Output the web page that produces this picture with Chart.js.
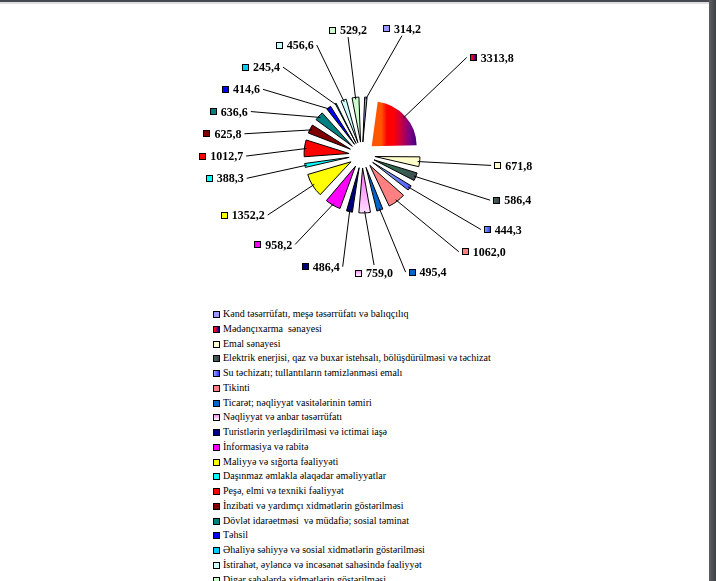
<!DOCTYPE html>
<html>
<head>
<meta charset="utf-8">
<script src="https://cdn.jsdelivr.net/npm/chart.js@4.4.0/dist/chart.umd.min.js"></script>
<style>
  html, body { margin: 0; padding: 0; background: #fff; width: 716px; height: 581px; overflow: hidden; }
  #topbar { position: absolute; left: 0; top: 0; width: 709px; height: 2px; background: #46494d; }
  #topline { position: absolute; left: 0; top: 2px; width: 709px; height: 2px; background: #dedede; }
  #side { position: absolute; left: 709px; top: 0; width: 7px; height: 581px; background: linear-gradient(to right, #5c5f63, #3e4144); }
  #pie { position: absolute; left: 62px; top: 5px; }
  #legend { position: absolute; left: 213px; top: 0; font-family: "Liberation Serif", serif; font-size: 10px; color: #000; }
  .item { position: absolute; left: 0; white-space: pre; height: 12px; line-height: 12px; }
  .item i { position: absolute; left: 0; top: 3px; width: 5px; height: 5px; border: 1px solid #000; }
  .item span { position: absolute; left: 10px; top: 0; }
</style>
</head>
<body>
<div id="topbar"></div>
<div id="topline"></div>
<div id="side"></div>
<canvas id="pie" width="600" height="300"></canvas>
<div id="legend"></div>
<script>
// sectors and values (mln. manat)
const sectors = [
  'Kənd təsərrüfatı, meşə təsərrüfatı və balıqçılıq',
  'Mədənçıxarma  sənayesi',
  'Emal sənayesi',
  'Elektrik enerjisi, qaz və buxar istehsalı, bölüşdürülməsi və təchizat',
  'Su təchizatı; tullantıların təmizlənməsi emalı',
  'Tikinti',
  'Ticarət; nəqliyyat vasitələrinin təmiri',
  'Nəqliyyat və anbar təsərrüfatı',
  'Turistlərin yerləşdirilməsi və ictimai iaşə',
  'İnformasiya və rabitə',
  'Maliyyə və sığorta fəaliyyəti',
  'Daşınmaz əmlakla əlaqədar əməliyyatlar',
  'Peşə, elmi və texniki fəaliyyət',
  'İnzibati və yardımçı xidmətlərin göstərilməsi',
  'Dövlət idarəetməsi  və müdafiə; sosial təminat',
  'Təhsil',
  'Əhaliyə səhiyyə və sosial xidmətlərin göstərilməsi',
  'İstirahət, əyləncə və incəsənət sahəsində fəaliyyət',
  'Digər sahələrdə xidmətlərin göstərilməsi'
];
const values = [314.2, 3313.8, 671.8, 586.4, 444.3, 1062.0, 495.4, 759.0, 486.4, 958.2,
                1352.2, 388.3, 1012.7, 625.8, 636.6, 414.6, 245.4, 456.6, 529.2];

// plain colour, or [direction, ...stops] for the gradient slices
const fills = [
  '#9999FF',
  ['h', '#FF5500', '#FF0000', '#FF0000', '#E0002A', '#B00058', '#800080', '#500080', '#200080', '#000080'],
  '#FFFFCC',
  ['h', '#2E7050', '#3A5A50', '#5A3060'],
  ['h', '#88A8FF', '#3333FF'],
  '#FF8080',
  '#0066CC',
  ['v', '#FF88FF', '#FFFFFF'],
  '#000080',
  '#FF00FF',
  '#FFFF00',
  '#00FFFF',
  '#FF0000',
  '#800000',
  '#008080',
  '#0000FF',
  '#00CCFF',
  '#CCFFFF',
  '#CCFFCC'
];

const R = 45;       // slice radius
const SHIFT = 13;   // explode distance

function makeFill(ctx, f, x0, y0, x1, y1) {
  if (typeof f === 'string') return f;
  const g = f[0] === 'h' ? ctx.createLinearGradient(x0, 0, x1, 0) : ctx.createLinearGradient(0, y0, 0, y1);
  const stops = f.slice(1);
  stops.forEach((c, k) => g.addColorStop(k / (stops.length - 1), c));
  return g;
}

function sliceAngles(i) {
  const total = values.reduce((a, b) => a + b, 0);
  let s = 0;
  for (let k = 0; k < i; k++) s += values[k];
  const a0 = -Math.PI / 2 + s / total * 2 * Math.PI;
  return [a0, a0 + values[i] / total * 2 * Math.PI];
}

function sliceBox(chart, i) {
  const a = chart.chartArea;
  const cx = (a.left + a.right) / 2, cy = (a.top + a.bottom) / 2;
  const [s, e] = sliceAngles(i);
  const m = (s + e) / 2;
  const ox = cx + Math.cos(m) * SHIFT, oy = cy + Math.sin(m) * SHIFT;
  let x0 = ox, x1 = ox, y0 = oy, y1 = oy;
  for (let k = 0; k <= 20; k++) {
    const t = s + (e - s) * k / 20;
    const px = ox + Math.cos(t) * R, py = oy + Math.sin(t) * R;
    x0 = Math.min(x0, px); x1 = Math.max(x1, px);
    y0 = Math.min(y0, py); y1 = Math.max(y1, py);
  }
  return [x0, y0, x1, y1];
}

// keep every slice the same radius (Chart.js grows small exploded slices)
const evenRadius = {
  id: 'evenRadius',
  beforeDatasetsDraw(chart) {
    chart.getDatasetMeta(0).data.forEach(arc => {
      const fix = 1 - Math.sin(Math.min(Math.PI, arc.circumference));
      arc.outerRadius = R - SHIFT * fix;
    });
  }
};

const sliceLabels = {
  id: 'sliceLabels',
  afterDatasetsDraw(chart) {
    const ctx = chart.ctx;
    const arcs = chart.getDatasetMeta(0).data;
    const n = arcs.length;
    const cx = arcs[0].x, cy = arcs[0].y;
    const LX = cx + 5, LY = cy - 4, EX = 146, EY = 122;
    ctx.save();
    ctx.font = 'bold 12px "Liberation Serif", serif';
    const texts = values.map(v => v.toFixed(1).replace('.', ','));
    const widths = texts.map(s => ctx.measureText(s).width + 11);
    const mids = arcs.map(a => (a.startAngle + a.endAngle) / 2);
    const ang = mids.slice();
    // label ring: ellipse, pushed a little outward on the right-hand diagonals
    const boxOf = i => {
      const c = Math.cos(ang[i]), s = Math.sin(ang[i]);
      const f = c > 0 ? 1 + 0.15 * Math.pow(Math.sin(2 * ang[i]), 2) : 1;
      const x = LX + EX * c * f, y = LY + EY * s * f;
      return { x, y, x0: x - widths[i] / 2, x1: x + widths[i] / 2, y0: y - 7, y1: y + 7 };
    };
    // how far a label sits from the vertical axis (0 at top/bottom, 1 at the sides)
    const side = b => Math.atan2(Math.abs(b.x - cx), Math.abs(b.y - cy)) / (Math.PI / 2);
    // spread crowded labels; labels near the vertical axis stay, outer ones give way
    for (let it = 0; it < 3000; it++) {
      let moved = false;
      for (let i = 0; i < n; i++) {
        const j = (i + 1) % n;
        const a = boxOf(i), b = boxOf(j);
        if (a.x0 < b.x1 + 15 && b.x0 < a.x1 + 15 && a.y0 < b.y1 + 8 && b.y0 < a.y1 + 8) {
          const wa = Math.pow(side(a), 4), wb = Math.pow(side(b), 4);
          const fa = wa / (wa + wb + 1e-9);
          ang[i] -= 0.006 * fa;
          ang[j] += 0.006 * (1 - fa);
          moved = true;
        }
      }
      if (!moved) break;
    }
    ctx.strokeStyle = '#000';
    ctx.lineWidth = 1;
    for (let i = 0; i < n; i++) {
      const b = boxOf(i);
      const c = Math.cos(ang[i]), s = Math.sin(ang[i]);
      const px = cx + Math.cos(mids[i]) * (R + SHIFT - 2);
      const py = cy + Math.sin(mids[i]) * (R + SHIFT - 2);
      let ex, ey;
      if (Math.abs(c) < 0.25) { ex = b.x; ey = s < 0 ? b.y1 : b.y0 - 1; }
      else if (c > 0) { ex = b.x0 - 3; ey = b.y; }
      else { ex = b.x1 + 3; ey = b.y; }
      ctx.beginPath();
      ctx.moveTo(px, py);
      ctx.lineTo(ex, ey);
      ctx.stroke();
      const bx = Math.round(b.x0) + 0.5, by = Math.round(b.y - 3.5) + 0.5;
      ctx.fillStyle = makeFill(ctx, fills[i], bx, by, bx + 6, by + 6);
      ctx.fillRect(bx, by, 6, 6);
      ctx.strokeRect(bx, by, 6, 6);
      ctx.fillStyle = '#000';
      ctx.textBaseline = 'middle';
      ctx.fillText(texts[i], b.x0 + 11, b.y + 1);
    }
    ctx.restore();
  }
};

new Chart(document.getElementById('pie'), {
  type: 'pie',
  data: {
    labels: sectors,
    datasets: [{
      data: values,
      backgroundColor: c => {
        const f = fills[c.dataIndex];
        if (typeof f === 'string' || !c.chart.chartArea) return typeof f === 'string' ? f : f[1];
        const [x0, y0, x1, y1] = sliceBox(c.chart, c.dataIndex);
        return makeFill(c.chart.ctx, f, x0, y0, x1, y1);
      },
      borderColor: c => c.dataIndex === 1 ? 'rgba(0,0,0,0)' : '#000',
      borderWidth: 1,
      offset: SHIFT * 4
    }]
  },
  options: {
    responsive: false,
    animation: false,
    radius: R,
    layout: { padding: 0 },
    plugins: { legend: { display: false }, tooltip: { enabled: false } }
  },
  plugins: [evenRadius, sliceLabels]
});

// legend list under the pie
const legend = document.getElementById('legend');
const cssFill = f => typeof f === 'string' ? f :
  'linear-gradient(' + (f[0] === 'h' ? 'to right' : 'to bottom') + ',' + f.slice(1).join(',') + ')';
sectors.forEach((name, i) => {
  const row = document.createElement('div');
  row.className = 'item';
  row.style.top = (308 + i * 14.75) + 'px';
  const sw = document.createElement('i');
  sw.style.background = cssFill(fills[i]);
  const tx = document.createElement('span');
  tx.textContent = name;
  row.appendChild(sw);
  row.appendChild(tx);
  legend.appendChild(row);
});
</script>
</body>
</html>
